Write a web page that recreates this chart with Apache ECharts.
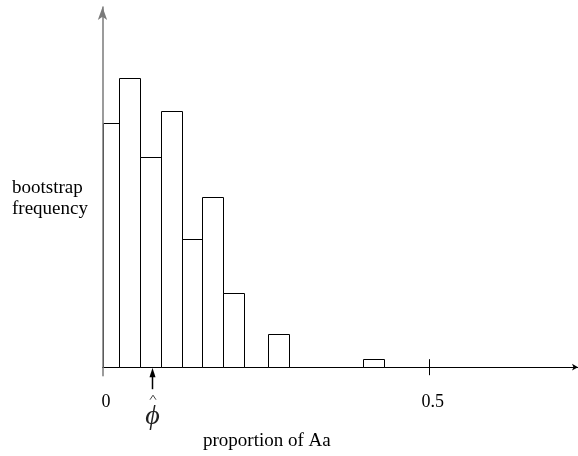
<!DOCTYPE html>
<html>
<head>
<meta charset="utf-8">
<script src="https://cdn.jsdelivr.net/npm/echarts@6/dist/echarts.min.js"></script>
<style>
html,body{margin:0;padding:0;background:#fff;}
#chart{width:578px;height:456px;}
</style>
</head>
<body>
<div id="chart"></div>
<script>
// Histogram bins (proportion of Aa) and bootstrap frequencies (arbitrary units)
const binStart = [0, 0.025, 0.058, 0.089, 0.121, 0.152, 0.184, 0.253, 0.399];
const binEnd   = [0.025, 0.058, 0.089, 0.121, 0.152, 0.184, 0.216, 0.285, 0.431];
const freq     = [244, 289, 210, 256, 128, 170, 74, 33, 8];
const phiHat = 0.076;
const xTickValues = [0, 0.5];
const xTickLabels = ['0', '0.5'];
const xCrossTicks = [0.5];
const yTitle = 'bootstrap\nfrequency';
const xTitle = 'proportion of Aa';

const FONT = '"Liberation Serif", "Times New Roman", serif';
const X_MAX = 0.7277;

const chart = echarts.init(document.getElementById('chart'), null, {renderer: 'canvas'});

const barData = binStart.map((s, i) => [s, binEnd[i], freq[i]]);

chart.setOption({
  animation: false,
  backgroundColor: '#fff',
  grid: {left: 102.5, right: 0, top: 7, bottom: 80.3, containLabel: false},
  xAxis: {
    type: 'value', min: 0, max: X_MAX,
    axisLine: {onZero: true, lineStyle: {color: '#000', width: 1}, symbol: ['none', 'arrow'], symbolSize: [5, 6]},
    axisTick: {show: true, customValues: xCrossTicks, length: 8, inside: false, lineStyle: {color: '#000', width: 1}},
    axisLabel: {
      show: true, customValues: xTickValues,
      formatter: v => { const i = xTickValues.findIndex(t => Math.abs(t - v) < 1e-9); return i >= 0 ? xTickLabels[i] : ''; },
      color: '#000', fontFamily: FONT, fontSize: 18, margin: 18, padding: [0, 0, 0, 7]
    },
    splitLine: {show: false}
  },
  yAxis: {
    type: 'value', min: -8.5, max: 360, z: 5,
    axisLine: {show: true, onZero: false, lineStyle: {color: '#7a7a7a', width: 1.5}, symbol: ['none', 'arrow'], symbolSize: [7, 13]},
    axisTick: {show: false},
    axisLabel: {show: false},
    splitLine: {show: false}
  },
  series: [{
    type: 'custom',
    name: 'bootstrap',
    z: 2,
    data: barData,
    encode: {x: [0, 1], y: 2},
    renderItem: function (params, api) {
      const p0 = api.coord([api.value(0), 0]);
      const p1 = api.coord([api.value(1), api.value(2)]);
      const x0 = Math.round(p0[0]) + 0.5, x1 = Math.round(p1[0]) + 0.5;
      const y0 = Math.round(p0[1]) + 0.5, y1 = Math.round(p1[1]) + 0.5;
      return {
        type: 'rect',
        shape: {x: x0, y: y1, width: x1 - x0, height: y0 - y1},
        style: {fill: '#fff', stroke: '#000', lineWidth: 1}
      };
    }
  }, {
    type: 'custom',
    name: 'crossTicks',
    z: 3,
    data: xCrossTicks.map(v => [v, 0]),
    encode: {x: 0, y: 1},
    renderItem: function (params, api) {
      const p = api.coord([api.value(0), 0]);
      const cx = Math.round(p[0]) + 0.5;
      return {type: 'line', shape: {x1: cx, y1: p[1] - 8, x2: cx, y2: p[1]}, style: {stroke: '#000', lineWidth: 1}};
    }
  }, {
    type: 'custom',
    name: 'phiHat',
    z: 6,
    data: [[phiHat, 0]],
    encode: {x: 0, y: 1},
    renderItem: function (params, api) {
      const p = api.coord([api.value(0), 0]);
      const cx = Math.round(p[0]) + 0.5;
      const y = p[1];
      return {
        type: 'group',
        children: [
          {type: 'polygon', shape: {points: [[cx, y + 0.5], [cx - 3, y + 10], [cx + 3, y + 10]]}, style: {fill: '#000'}},
          {type: 'line', shape: {x1: cx, y1: y + 8, x2: cx, y2: y + 22}, style: {stroke: '#000', lineWidth: 1.5}},
          {type: 'polyline', shape: {points: [[cx - 2.5, y + 32.5], [cx + 0.5, y + 28], [cx + 3.5, y + 32.5]]}, style: {stroke: '#444', lineWidth: 1, fill: null}},
          {type: 'text', x: cx, y: y + 49, style: {text: 'ϕ', font: 'italic 28px ' + FONT, fill: '#222', align: 'center', verticalAlign: 'middle'}}
        ]
      };
    }
  }],
  graphic: [
    {type: 'text', left: 12, top: 177, style: {text: yTitle, font: '19px ' + FONT, lineHeight: 21.5, fill: '#000'}},
    {type: 'text', left: 203, top: 432, style: {text: xTitle, font: '19px ' + FONT, fill: '#000'}}
  ]
});
</script>
</body>
</html>
